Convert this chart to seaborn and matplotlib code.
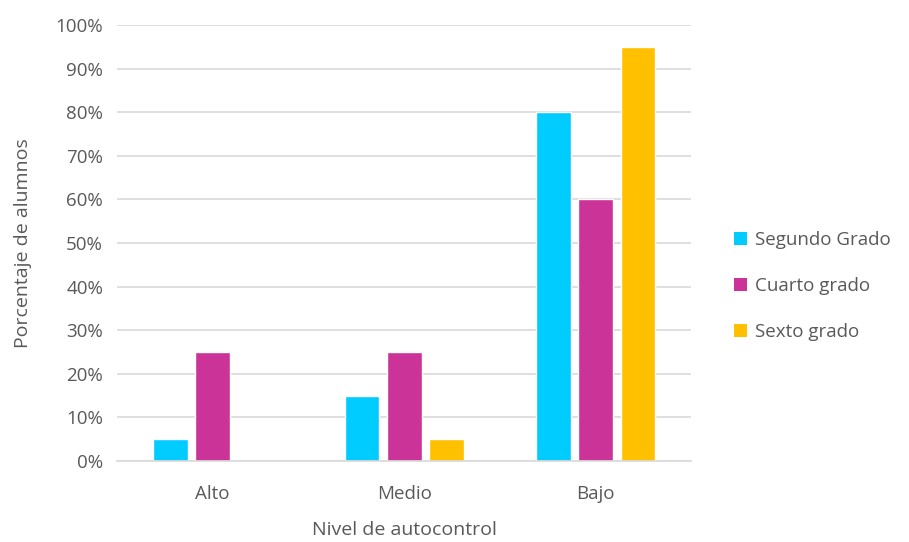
import matplotlib
matplotlib.use("Agg")
import matplotlib.pyplot as plt
import seaborn as sns
import pandas as pd
from matplotlib.ticker import PercentFormatter
from matplotlib.patches import Patch

categories = ["Alto", "Medio", "Bajo"]
series = ["Segundo Grado", "Cuarto grado", "Sexto grado"]
segundo = [5, 15, 80]
cuarto = [25, 25, 60]
sexto = [0, 5, 95]
colors = ["#00CCFF", "#CC3399", "#FFC000"]

rows = []
for s, vals in zip(series, [segundo, cuarto, sexto]):
    for c, v in zip(categories, vals):
        rows.append({"Nivel": c, "Serie": s, "Valor": v})
df = pd.DataFrame(rows)

sns.set_style("white")
plt.rcParams["font.family"] = ["Open Sans", "DejaVu Sans"]
text_color = "#595959"

fig = plt.figure(figsize=(9.09, 5.42), dpi=100)
ax = fig.add_axes([0.1287, 0.1494, 0.632, 0.8045])

sns.barplot(data=df, x="Nivel", y="Valor", hue="Serie", order=categories,
            hue_order=series, palette=colors, width=0.66, gap=0.18,
            saturation=1, ax=ax, legend=False)

ax.set_ylim(0, 100)
ax.set_yticks(range(0, 101, 10))
ax.yaxis.set_major_formatter(PercentFormatter(100, decimals=0))
ax.grid(axis="y", color="#D9D9D9", linewidth=1.2)
ax.set_axisbelow(True)
for side in ["top", "right", "left"]:
    ax.spines[side].set_visible(False)
ax.spines["bottom"].set_color("#D9D9D9")
ax.spines["bottom"].set_linewidth(1.2)
ax.tick_params(axis="both", length=0, labelsize=13.5, colors=text_color, pad=10)
ax.tick_params(axis="x", pad=17)
ax.set_xlabel("Nivel de autocontrol", fontsize=14, color=text_color, labelpad=13)
ax.set_ylabel("Porcentaje de alumnos", fontsize=14, color=text_color, labelpad=17)

handles = [Patch(facecolor=c, edgecolor="none") for c in colors]
leg = fig.legend(handles, series, loc="center left", bbox_to_anchor=(0.808, 0.472),
                 frameon=False, fontsize=13.5, handlelength=0.65, handleheight=0.65,
                 handletextpad=0.45, labelspacing=1.5, labelcolor=text_color,
                 borderaxespad=0, borderpad=0)

fig.savefig("out.png", dpi=100)
